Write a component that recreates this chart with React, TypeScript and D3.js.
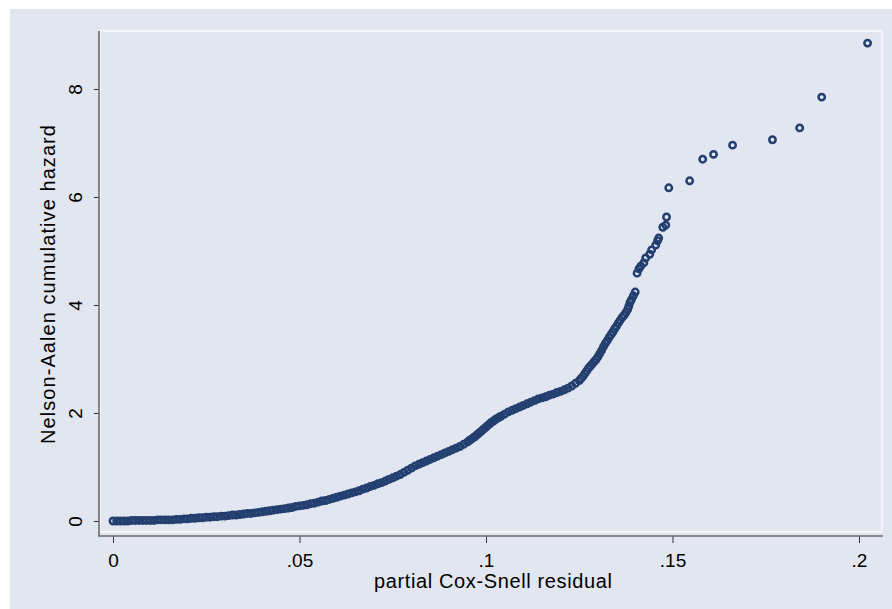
import React, { useRef, useEffect } from 'react';
import * as d3 from 'd3';

// partial Cox-Snell residuals (x) and Nelson-Aalen cumulative hazard (y)
const coxSnell = [
  0, 0.001, 0.002, 0.003, 0.004, 0.005, 0.006, 0.007, 0.008, 0.009,
  0.01, 0.011, 0.012, 0.013, 0.014, 0.015, 0.016, 0.017, 0.018, 0.019,
  0.02, 0.021, 0.022, 0.023, 0.024, 0.025, 0.026, 0.027, 0.028, 0.029,
  0.03, 0.031, 0.032, 0.033, 0.034, 0.035, 0.036, 0.037, 0.038, 0.039,
  0.04, 0.041, 0.042, 0.043, 0.044, 0.045, 0.046, 0.047, 0.048, 0.049,
  0.05, 0.051, 0.052, 0.053, 0.054, 0.055, 0.056, 0.057, 0.058, 0.059,
  0.06, 0.061, 0.062, 0.063, 0.064, 0.065, 0.066, 0.067, 0.068, 0.069,
  0.07, 0.071, 0.072, 0.073, 0.074, 0.075, 0.076, 0.077, 0.078, 0.079,
  0.08, 0.081, 0.082, 0.083, 0.084, 0.085, 0.086, 0.087, 0.088, 0.089,
  0.09, 0.091, 0.092, 0.093, 0.094, 0.095, 0.0955, 0.096, 0.0965, 0.097,
  0.0975, 0.098, 0.0985, 0.099, 0.0995, 0.1, 0.1005, 0.101, 0.1015, 0.102,
  0.1025, 0.103, 0.1035, 0.104, 0.105, 0.106, 0.107, 0.108, 0.109, 0.11,
  0.111, 0.112, 0.113, 0.114, 0.115, 0.116, 0.117, 0.118, 0.119, 0.12,
  0.121, 0.122, 0.123, 0.124, 0.125, 0.1255, 0.126, 0.1265, 0.127, 0.1275,
  0.128, 0.1285, 0.129, 0.1295, 0.13, 0.1305, 0.131, 0.1315, 0.132, 0.1325,
  0.133, 0.1335, 0.134, 0.1345, 0.135, 0.1355, 0.136, 0.1365, 0.137, 0.1375,
  0.138, 0.1383, 0.1386, 0.139, 0.1395, 0.14,
  0.1405, 0.141, 0.1415, 0.1423, 0.1428, 0.1439, 0.1444, 0.1455, 0.146, 0.1463,
  0.1474, 0.1482, 0.1484, 0.149, 0.1546, 0.1581, 0.161, 0.1661, 0.1768, 0.1841,
  0.19, 0.2023
];

const nelsonAalen = [
  0, 0, 0, 0, 0, 0.01, 0.01, 0.01, 0.01, 0.01,
  0.01, 0.01, 0.02, 0.02, 0.02, 0.02, 0.02, 0.03, 0.03, 0.04,
  0.04, 0.05, 0.05, 0.06, 0.06, 0.07, 0.07, 0.08, 0.08, 0.09,
  0.09, 0.1, 0.11, 0.11, 0.12, 0.13, 0.14, 0.14, 0.15, 0.16,
  0.17, 0.18, 0.19, 0.2, 0.21, 0.22, 0.23, 0.24, 0.25, 0.27,
  0.28, 0.29, 0.3, 0.32, 0.33, 0.35, 0.37, 0.38, 0.4, 0.42,
  0.44, 0.46, 0.48, 0.5, 0.52, 0.54, 0.56, 0.59, 0.61, 0.64,
  0.66, 0.69, 0.71, 0.74, 0.77, 0.8, 0.83, 0.86, 0.9, 0.94,
  0.98, 1.02, 1.05, 1.08, 1.11, 1.14, 1.17, 1.2, 1.23, 1.26,
  1.29, 1.32, 1.35, 1.38, 1.42, 1.46, 1.49, 1.51, 1.54, 1.56,
  1.59, 1.62, 1.65, 1.68, 1.71, 1.74, 1.77, 1.8, 1.83, 1.85,
  1.88, 1.9, 1.92, 1.94, 1.98, 2.02, 2.05, 2.08, 2.11, 2.14,
  2.17, 2.2, 2.23, 2.26, 2.28, 2.3, 2.33, 2.35, 2.38, 2.4,
  2.43, 2.46, 2.5, 2.55, 2.6, 2.64, 2.68, 2.73, 2.78, 2.83,
  2.87, 2.91, 2.95, 2.99, 3.04, 3.1, 3.16, 3.23, 3.29, 3.34,
  3.4, 3.45, 3.5, 3.56, 3.61, 3.67, 3.72, 3.77, 3.81, 3.86,
  3.92, 3.98, 4.05, 4.1, 4.17, 4.24,
  4.59, 4.67, 4.72, 4.78, 4.87, 4.94, 5.02, 5.11, 5.19, 5.24,
  5.44, 5.48, 5.63, 6.17, 6.3, 6.7, 6.79, 6.96, 7.06, 7.28,
  7.85, 8.85
];

const xTicks = [0, 0.05, 0.1, 0.15, 0.2];
const xTickLabels = ['0', '.05', '.1', '.15', '.2'];
const yTicks = [0, 2, 4, 6, 8];

const font = '"Liberation Sans", Arial, sans-serif';

const App = () => {
  const svgRef = useRef(null);

  useEffect(() => {
    const svg = d3.select(svgRef.current);
    svg.selectAll('*').remove();

    const x = d3.scaleLinear().domain([0, 0.2]).range([113, 859]);
    const y = d3.scaleLinear().domain([0, 8]).range([521, 89]);

    // graph region
    svg.append('rect')
      .attr('x', 10).attr('y', 9)
      .attr('width', 882).attr('height', 600)
      .attr('fill', '#e1e6f0');

    // plot region outline
    svg.append('rect')
      .attr('x', 100).attr('y', 31)
      .attr('width', 782).attr('height', 501)
      .attr('fill', 'none')
      .attr('stroke', '#ffffff')
      .attr('stroke-width', 1.2);

    // points
    const pts = coxSnell.map((v, i) => [v, nelsonAalen[i]]);
    svg.append('g')
      .selectAll('circle')
      .data(pts)
      .join('circle')
        .attr('cx', d => x(d[0]))
        .attr('cy', d => y(d[1]))
        .attr('r', 3.2)
        .attr('fill', 'none')
        .attr('stroke', '#233f70')
        .attr('stroke-width', 2.5);

    // y axis
    const yAxis = svg.append('g')
      .attr('transform', 'translate(99,0)')
      .call(d3.axisLeft(y).tickValues(yTicks).tickSize(5).tickSizeOuter(0));
    yAxis.select('.domain').remove();
    yAxis.selectAll('.tick line').attr('stroke', '#333');
    yAxis.selectAll('.tick text')
      .attr('transform', 'rotate(-90)')
      .attr('x', 0).attr('y', -17).attr('dy', 0)
      .attr('text-anchor', 'middle')
      .attr('fill', '#000')
      .style('font-family', font)
      .style('font-size', '19px');

    // x axis
    const xAxis = svg.append('g')
      .attr('transform', 'translate(0,536)')
      .call(d3.axisBottom(x).tickValues(xTicks)
        .tickFormat((d, i) => xTickLabels[i])
        .tickSize(7).tickSizeOuter(0));
    xAxis.select('.domain').remove();
    xAxis.selectAll('.tick line').attr('stroke', '#333');
    xAxis.selectAll('.tick text')
      .attr('y', 31).attr('dy', 0)
      .attr('fill', '#000')
      .style('font-family', font)
      .style('font-size', '19px');

    // axis lines
    svg.append('line')
      .attr('x1', 99).attr('x2', 99).attr('y1', 31).attr('y2', 536.5)
      .attr('stroke', '#6a6a6a').attr('stroke-width', 1.6);
    svg.append('line')
      .attr('x1', 98.5).attr('x2', 883).attr('y1', 536).attr('y2', 536)
      .attr('stroke', '#6a6a6a').attr('stroke-width', 1.6);

    // titles
    svg.append('text')
      .attr('x', 493).attr('y', 588)
      .attr('text-anchor', 'middle')
      .attr('textLength', 238)
      .attr('lengthAdjust', 'spacing')
      .style('font-family', font)
      .style('font-size', '20px')
      .text('partial Cox-Snell residual');

    svg.append('text')
      .attr('transform', 'translate(55,284.5) rotate(-90)')
      .attr('text-anchor', 'middle')
      .attr('textLength', 319)
      .attr('lengthAdjust', 'spacing')
      .style('font-family', font)
      .style('font-size', '20px')
      .text('Nelson-Aalen cumulative hazard');
  }, []);

  return (
    <svg
      ref={svgRef}
      width={892}
      height={609}
      style={{ position: 'absolute', left: 0, top: 0, background: '#fff' }}
    />
  );
};

export default App;
